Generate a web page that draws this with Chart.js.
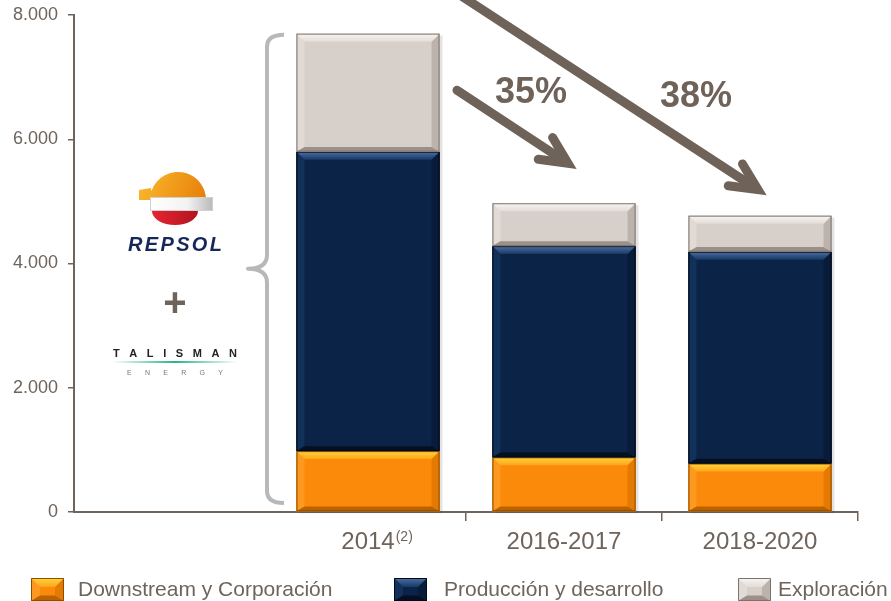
<!DOCTYPE html>
<html>
<head>
<meta charset="utf-8">
<script src="https://cdn.jsdelivr.net/npm/chart.js@4.4.1/dist/chart.umd.min.js"></script>
<style>
  html, body { margin: 0; padding: 0; background: #fff; }
  #wrap { width: 891px; height: 601px; position: relative; }
</style>
</head>
<body>
<div id="wrap"><canvas id="inversiones"></canvas></div>
<script>
const categories = ['', '2014', '2016-2017', '2018-2020'];
const labelNotes = ['', '(2)', '', ''];
const downstream = [null, 980, 880, 780];
const produccion = [null, 4820, 3400, 3410];
const exploracion = [null, 1900, 690, 580];
const yTickValues = [0, 2000, 4000, 6000, 8000];
const seriesNames = ['Downstream y Corporación', 'Producción y desarrollo', 'Exploración'];
const reductionLabels = ['35%', '38%'];

const FONT = "'Liberation Sans', Arial, sans-serif";
const grey = '#6e645c';

// bevel colours per series (bottom -> top of the stack)
const bevels = [
    { face: '#fb8a0b', top: '#ffd53c', topEnd: '#ffa51a', left: '#fd9820', right: '#e47a04', bottom: '#b86200', edge: '#8a5000' },
    { face: '#0b2347', top: '#4b70a2', topEnd: '#183866', left: '#11305a', right: '#081b38', bottom: '#050f22', edge: '#030918' },
    { face: '#d7cfc9', top: '#f8f5f2', topEnd: '#e3dcd7', left: '#e1dad5', right: '#bcb3ac', bottom: '#9c918a', edge: '#7d736c' }
];

const totals = categories.map((c, i) => (downstream[i] || 0) + (produccion[i] || 0) + (exploracion[i] || 0));

function fmtThousands(v) {
    return String(v).replace(/\B(?=(\d{3})+(?!\d))/g, '.');
}

function poly(ctx, pts, fill) {
    ctx.beginPath();
    ctx.moveTo(pts[0][0], pts[0][1]);
    for (let i = 1; i < pts.length; i++) ctx.lineTo(pts[i][0], pts[i][1]);
    ctx.closePath();
    ctx.fillStyle = fill;
    ctx.fill();
}

function bevelRect(ctx, l, t, r, b, s, depth) {
    const h = b - t;
    const d = Math.min(depth, h / 2);
    const db = Math.min(depth * 0.6, h / 3);
    ctx.fillStyle = s.face;
    ctx.fillRect(l, t, r - l, h);
    const g = ctx.createLinearGradient(0, t, 0, t + d);
    g.addColorStop(0, s.top);
    g.addColorStop(1, s.topEnd);
    poly(ctx, [[l, t], [l + d, t + d], [l + d, b - db], [l, b]], s.left);
    poly(ctx, [[r, t], [r - d, t + d], [r - d, b - db], [r, b]], s.right);
    poly(ctx, [[l, b], [l + d, b - db], [r - d, b - db], [r, b]], s.bottom);
    poly(ctx, [[l, t], [r, t], [r - d, t + d], [l + d, t + d]], g);
    ctx.strokeStyle = s.edge;
    ctx.lineWidth = 1;
    ctx.strokeRect(l + 0.5, t + 0.5, r - l - 1, h - 1);
}

function barRects(chart, fn) {
    chart.getSortedVisibleDatasetMetas().forEach(meta => {
        meta.data.forEach((el, i) => {
            const v = chart.data.datasets[meta.index].data[i];
            if (v === null || v === undefined) return;
            const p = el.getProps(['x', 'y', 'base', 'width'], true);
            fn(meta.index, p.x - p.width / 2, Math.min(p.y, p.base), p.x + p.width / 2, Math.max(p.y, p.base));
        });
    });
}

const bevelPlugin = {
    id: 'bevel',
    beforeDatasetsDraw(chart) {
        const ctx = chart.ctx;
        ctx.save();
        ctx.fillStyle = 'rgba(60,50,40,0.13)';
        barRects(chart, (ds, l, t, r, b) => ctx.fillRect(l + 3, t + 2, r - l, b - t));
        ctx.restore();
    },
    afterDatasetsDraw(chart) {
        const ctx = chart.ctx;
        ctx.save();
        barRects(chart, (ds, l, t, r, b) => bevelRect(ctx, l, t, r, b, bevels[ds], 8));
        ctx.restore();
    }
};

function spreadText(ctx, text, left, right, y) {
    const chars = text.split('');
    const widths = chars.map(c => ctx.measureText(c).width);
    const sum = widths.reduce((a, b) => a + b, 0);
    const gap = chars.length > 1 ? (right - left - sum) / (chars.length - 1) : 0;
    let x = left;
    ctx.textAlign = 'left';
    chars.forEach((c, i) => { ctx.fillText(c, x, y); x += widths[i] + gap; });
}

function drawArrow(ctx, x1, y1, x2, y2) {
    const a = Math.atan2(y2 - y1, x2 - x1);
    ctx.beginPath();
    ctx.moveTo(x1, y1);
    ctx.lineTo(x2 - Math.cos(a) * 6, y2 - Math.sin(a) * 6);
    ctx.lineCap = 'round';
    ctx.stroke();
    const len = 30, spread = 0.45;
    ctx.beginPath();
    ctx.moveTo(x2 + len * Math.cos(a + Math.PI - spread), y2 + len * Math.sin(a + Math.PI - spread));
    ctx.lineTo(x2, y2);
    ctx.lineTo(x2 + len * Math.cos(a + Math.PI + spread), y2 + len * Math.sin(a + Math.PI + spread));
    ctx.lineJoin = 'miter';
    ctx.stroke();
}

const decorPlugin = {
    id: 'decor',
    afterDraw(chart) {
        const ctx = chart.ctx;
        const xs = chart.scales.x, ys = chart.scales.y;
        ctx.save();

        // superscript note next to the 2014 label
        ctx.font = '24px ' + FONT;
        labelNotes.forEach((note, i) => {
            if (!note) return;
            const w = ctx.measureText(categories[i]).width;
            ctx.save();
            ctx.font = '14px ' + FONT;
            ctx.fillStyle = grey;
            ctx.textAlign = 'left';
            ctx.textBaseline = 'top';
            ctx.fillText(note, xs.getPixelForValue(i) + w / 2 + 1, 530);
            ctx.restore();
        });

        // reduction arrows
        ctx.strokeStyle = '#6e6259';
        ctx.lineWidth = 9;
        const tipShort = { x: xs.getPixelForValue(2) + 4, y: ys.getPixelForValue(totals[2]) - 40 };
        const tipLong = { x: xs.getPixelForValue(3) - 2, y: ys.getPixelForValue(totals[3]) - 26 };
        drawArrow(ctx, tipShort.x - 111, tipShort.y - 73, tipShort.x, tipShort.y);
        drawArrow(ctx, tipLong.x - 340, tipLong.y - 222, tipLong.x, tipLong.y);
        ctx.fillStyle = '#6e6259';
        ctx.font = 'bold 36px ' + FONT;
        ctx.textAlign = 'center';
        ctx.textBaseline = 'middle';
        ctx.fillText(reductionLabels[0], tipShort.x - 37, tipShort.y - 70);
        ctx.fillText(reductionLabels[1], tipLong.x - 62, tipLong.y - 93);

        // brace in front of the 2014 bar
        const bx = xs.getPixelForValue(1) - 101;
        const bTop = ys.getPixelForValue(totals[1]) + 1;
        const bBot = ys.getPixelForValue(0) - 9;
        const bMid = (bTop + bBot) / 2;
        ctx.strokeStyle = '#b8b8b8';
        ctx.lineWidth = 4;
        ctx.lineCap = 'butt';
        ctx.lineJoin = 'round';
        ctx.beginPath();
        ctx.moveTo(bx + 17, bTop);
        ctx.quadraticCurveTo(bx, bTop, bx, bTop + 12);
        ctx.lineTo(bx, bMid - 14);
        ctx.bezierCurveTo(bx, bMid - 3, bx - 9, bMid, bx - 19, bMid);
        ctx.bezierCurveTo(bx - 9, bMid, bx, bMid + 3, bx, bMid + 14);
        ctx.lineTo(bx, bBot - 12);
        ctx.quadraticCurveTo(bx, bBot, bx + 17, bBot);
        ctx.stroke();

        // Repsol + Talisman marks in the empty first slot
        const cx = xs.getPixelForValue(0) + 3;
        let g = ctx.createLinearGradient(cx - 30, 175, cx + 28, 200);
        g.addColorStop(0, '#f9b52a');
        g.addColorStop(1, '#e8800a');
        ctx.fillStyle = g;
        ctx.beginPath();
        ctx.moveTo(cx - 36, 190);
        ctx.lineTo(cx - 24, 188);
        ctx.ellipse(cx + 3, 200, 28, 28, 0, Math.PI * 1.1, Math.PI * 2);
        ctx.lineTo(cx - 36, 200);
        ctx.closePath();
        ctx.fill();
        g = ctx.createLinearGradient(cx - 25, 0, cx + 38, 0);
        g.addColorStop(0, '#ffffff');
        g.addColorStop(0.6, '#f2f2f2');
        g.addColorStop(1, '#b9b9b9');
        ctx.fillStyle = g;
        ctx.fillRect(cx - 25, 197, 63, 14);
        ctx.strokeStyle = '#d0d0d0';
        ctx.lineWidth = 1;
        ctx.strokeRect(cx - 24.5, 197.5, 62, 13);
        g = ctx.createLinearGradient(cx - 22, 0, cx + 22, 0);
        g.addColorStop(0, '#e52530');
        g.addColorStop(1, '#b3141f');
        ctx.fillStyle = g;
        ctx.beginPath();
        ctx.ellipse(cx, 211, 23, 14, 0, 0, Math.PI);
        ctx.closePath();
        ctx.fill();

        ctx.fillStyle = '#16285a';
        ctx.font = 'italic bold 20px ' + FONT;
        ctx.textBaseline = 'alphabetic';
        spreadText(ctx, 'REPSOL', cx - 47, cx + 47, 251);

        ctx.fillStyle = grey;
        ctx.font = 'bold 40px ' + FONT;
        ctx.textAlign = 'center';
        ctx.textBaseline = 'middle';
        ctx.fillText('+', cx, 305);

        ctx.fillStyle = '#222';
        ctx.font = 'bold 11px ' + FONT;
        ctx.textBaseline = 'alphabetic';
        spreadText(ctx, 'TALISMAN', cx - 62, cx + 62, 357);
        g = ctx.createLinearGradient(cx - 63, 0, cx + 63, 0);
        g.addColorStop(0, 'rgba(40,180,140,0)');
        g.addColorStop(0.5, 'rgba(40,180,140,1)');
        g.addColorStop(1, 'rgba(40,180,140,0)');
        ctx.fillStyle = g;
        ctx.fillRect(cx - 63, 361, 126, 2);
        ctx.fillStyle = '#777';
        ctx.font = '7px ' + FONT;
        spreadText(ctx, 'ENERGY', cx - 48, cx + 48, 375);

        // legend with bevelled swatches
        const legendBoxX = [31, 394, 738];
        const legendTextX = [78, 444, 778];
        ctx.font = '21px ' + FONT;
        ctx.textBaseline = 'middle';
        ctx.textAlign = 'left';
        seriesNames.forEach((name, i) => {
            bevelRect(ctx, legendBoxX[i], 578, legendBoxX[i] + 33, 601, bevels[i], 9);
            ctx.fillStyle = grey;
            ctx.fillText(name, legendTextX[i], 590);
        });

        ctx.restore();
    }
};

new Chart(document.getElementById('inversiones'), {
    type: 'bar',
    data: {
        labels: categories,
        datasets: [
            { label: seriesNames[0], data: downstream, backgroundColor: bevels[0].face },
            { label: seriesNames[1], data: produccion, backgroundColor: bevels[1].face },
            { label: seriesNames[2], data: exploracion, backgroundColor: bevels[2].face }
        ]
    },
    options: {
        responsive: true,
        maintainAspectRatio: false,
        animation: false,
        layout: { padding: { top: 15, right: 33, bottom: 0, left: 0 } },
        datasets: { bar: { barPercentage: 0.73, categoryPercentage: 1 } },
        plugins: {
            legend: { display: false },
            tooltip: { enabled: false }
        },
        scales: {
            x: {
                stacked: true,
                offset: true,
                afterFit(scale) { scale.height = 89; },
                border: { color: grey, width: 2 },
                grid: {
                    offset: true,
                    drawOnChartArea: false,
                    tickLength: 9,
                    lineWidth: 1.5,
                    color: c => (c.index === 0 || c.index === 1) ? 'rgba(0,0,0,0)' : grey
                },
                ticks: {
                    color: grey,
                    padding: 7,
                    font: { size: 24, family: FONT },
                    maxRotation: 0
                }
            },
            y: {
                stacked: true,
                min: 0,
                max: 8000,
                afterFit(scale) {
                    scale.width = 74;
                    scale.paddingTop = 0;
                    scale.paddingBottom = 0;
                },
                afterBuildTicks(scale) { scale.ticks = yTickValues.map(v => ({ value: v })); },
                border: { color: grey, width: 2 },
                grid: {
                    drawOnChartArea: false,
                    tickLength: 6,
                    lineWidth: 1.5,
                    color: grey
                },
                ticks: {
                    color: grey,
                    padding: 10,
                    font: { size: 18, family: FONT },
                    callback: v => fmtThousands(v)
                }
            }
        }
    },
    plugins: [bevelPlugin, decorPlugin]
});
</script>
</body>
</html>
